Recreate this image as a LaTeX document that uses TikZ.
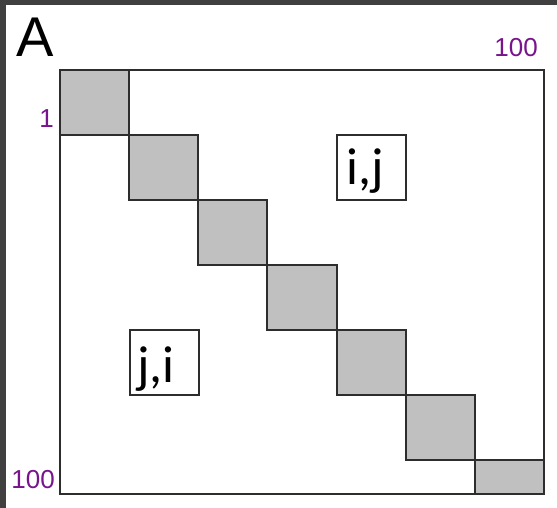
\documentclass[tikz,border=0pt]{standalone}
\usepackage{fontspec}
\setmainfont{Liberation Sans}
\newfontfamily\labfont{Carlito}
\definecolor{frame}{RGB}{64,64,64}
\definecolor{edge}{RGB}{45,45,45}
\definecolor{cellgray}{RGB}{192,192,192}
\definecolor{idx}{RGB}{120,20,140}
\begin{document}
\begin{tikzpicture}[x=1pt,y=-1pt,
  gridline/.style={draw=edge,line width=2pt},
  block/.style={gridline,fill=cellgray},
  idxlabel/.style={inner sep=0pt,text=idx,font=\fontsize{26}{26}\selectfont},
  pairbox/.style={gridline,fill=white},
  pairtext/.style={inner sep=0pt,font=\labfont\fontsize{52}{52}\selectfont}]
\useasboundingbox (0,0) rectangle (557,508);
\fill[white] (0,0) rectangle (557,508);
\fill[frame] (0,0) rectangle (557,5);
\fill[frame] (0,0) rectangle (6,508);
% matrix outline
\draw[gridline] (60,70) rectangle (544,494);
% diagonal blocks
\foreach \k in {0,...,5}{
  \draw[block] ({60+69.14*\k},{70+65*\k}) rectangle ({60+69.14*(\k+1)},{70+65*(\k+1)});
}
\draw[block] (475,460) rectangle (544,494);
% pair boxes
\draw[pairbox] (337,135) rectangle (406,200);
\draw[pairbox] (130,330) rectangle (199,395);
\node[pairtext,anchor=base] (ij) at (365.5,185) {i,j};
\node[pairtext,anchor=base] (ji) at (156,382) {j,i};
% labels
\node[inner sep=0pt,anchor=base west,font=\fontsize{56}{56}\selectfont] (A) at (16,57) {A};
\node[idxlabel,anchor=base east] (ntop) at (538,57) {100};
\node[idxlabel,anchor=base east] (one) at (54,128) {1};
\node[idxlabel,anchor=base east] (nbot) at (55,488) {100};
\end{tikzpicture}
\end{document}
